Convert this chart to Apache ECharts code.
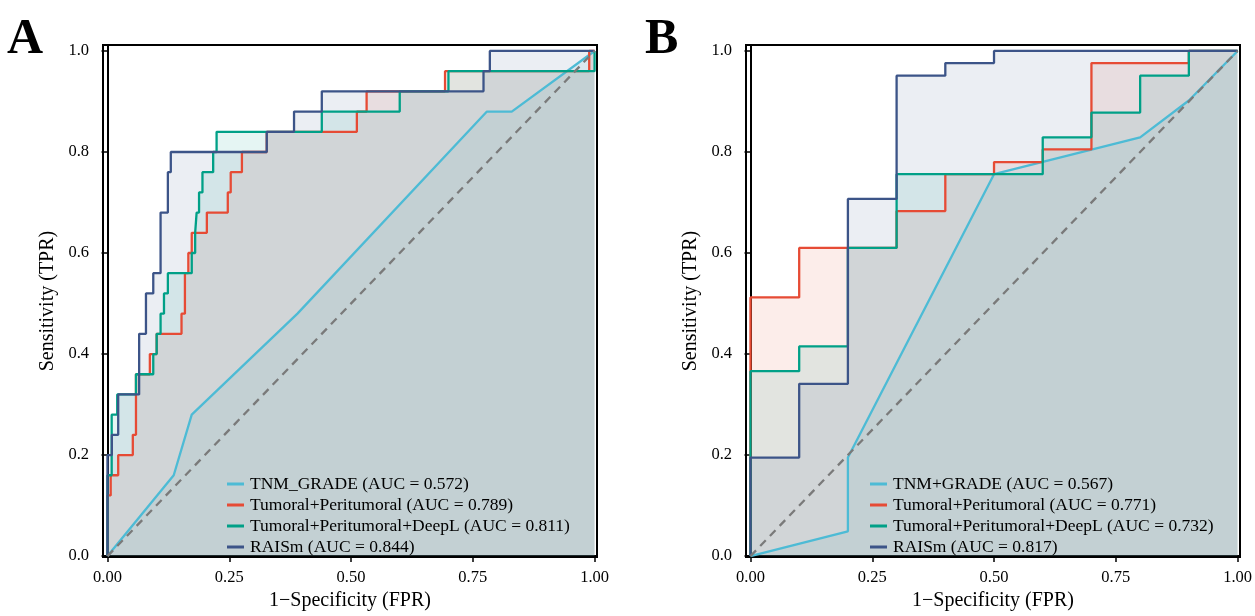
<!DOCTYPE html>
<html>
<head>
<meta charset="utf-8">
<title>ROC curves</title>
<script src="https://cdn.jsdelivr.net/npm/echarts@6/dist/echarts.min.js"></script>
<style>
  html, body { margin: 0; padding: 0; background: #fff; }
  #chart { width: 1255px; height: 616px; }
</style>
</head>
<body>
<div id="chart"></div>
<script>
// tick labels
const xTicks = [0, 0.25, 0.5, 0.75, 1]
const yTicks = [0, 0.2, 0.4, 0.6, 0.8, 1]

// panel A
const namesA = [
  'TNM_GRADE (AUC = 0.572)',
  'Tumoral+Peritumoral (AUC = 0.789)',
  'Tumoral+Peritumoral+DeepL (AUC = 0.811)',
  'RAISm (AUC = 0.844)',
]
const aTnmFpr = [0, 0.136, 0.173, 0.39, 0.779, 0.83, 1]
const aTnmTpr = [0, 0.16, 0.28, 0.48, 0.88, 0.88, 1]
const aTpFpr = [0, 0, 0.0066, 0.0066, 0.022, 0.022, 0.052, 0.052, 0.0585, 0.0585, 0.087, 0.087, 0.101, 0.101, 0.152, 0.152, 0.159, 0.159, 0.166, 0.166, 0.173, 0.173, 0.204, 0.204, 0.247, 0.247, 0.253, 0.253, 0.276, 0.276, 0.327, 0.327, 0.512, 0.512, 0.532, 0.532, 0.693, 0.693, 0.989, 0.989, 1]
const aTpTpr = [0, 0.12, 0.12, 0.16, 0.16, 0.2, 0.2, 0.24, 0.24, 0.36, 0.36, 0.4, 0.4, 0.44, 0.44, 0.48, 0.48, 0.56, 0.56, 0.6, 0.6, 0.64, 0.64, 0.68, 0.68, 0.72, 0.72, 0.76, 0.76, 0.8, 0.8, 0.84, 0.84, 0.88, 0.88, 0.92, 0.92, 0.96, 0.96, 1, 1]
const aTpdFpr = [0, 0, 0.0086, 0.0086, 0.02, 0.02, 0.0585, 0.0585, 0.094, 0.094, 0.101, 0.101, 0.109, 0.109, 0.116, 0.116, 0.124, 0.124, 0.173, 0.173, 0.18, 0.18, 0.183, 0.183, 0.188, 0.188, 0.195, 0.195, 0.217, 0.217, 0.224, 0.224, 0.44, 0.44, 0.6, 0.6, 0.7, 0.7, 1, 1]
const aTpdTpr = [0, 0.16, 0.16, 0.28, 0.28, 0.32, 0.32, 0.36, 0.36, 0.4, 0.4, 0.44, 0.44, 0.48, 0.48, 0.52, 0.52, 0.56, 0.56, 0.6, 0.6, 0.64, 0.64, 0.68, 0.68, 0.72, 0.72, 0.76, 0.76, 0.8, 0.8, 0.84, 0.84, 0.88, 0.88, 0.92, 0.92, 0.96, 0.96, 1]
const aRaisFpr = [0, 0, 0.009, 0.009, 0.022, 0.022, 0.065, 0.065, 0.079, 0.079, 0.094, 0.094, 0.109, 0.109, 0.124, 0.124, 0.13, 0.13, 0.327, 0.327, 0.383, 0.383, 0.44, 0.44, 0.772, 0.772, 0.785, 0.785, 1]
const aRaisTpr = [0, 0.2, 0.2, 0.24, 0.24, 0.32, 0.32, 0.44, 0.44, 0.52, 0.52, 0.56, 0.56, 0.68, 0.68, 0.76, 0.76, 0.8, 0.8, 0.84, 0.84, 0.88, 0.88, 0.92, 0.92, 0.96, 0.96, 1, 1]

// panel B
const namesB = [
  'TNM+GRADE (AUC = 0.567)',
  'Tumoral+Peritumoral (AUC = 0.771)',
  'Tumoral+Peritumoral+DeepL (AUC = 0.732)',
  'RAISm (AUC = 0.817)',
]
const bTnmFpr = [0, 0.2, 0.2, 0.5, 0.8, 0.9, 1]
const bTnmTpr = [0, 0.049, 0.195, 0.756, 0.829, 0.902, 1]
const bTpFpr = [0, 0, 0.1, 0.1, 0.3, 0.3, 0.4, 0.4, 0.5, 0.5, 0.6, 0.6, 0.7, 0.7, 0.9, 0.9, 1]
const bTpTpr = [0, 0.512, 0.512, 0.61, 0.61, 0.683, 0.683, 0.756, 0.756, 0.78, 0.78, 0.805, 0.805, 0.976, 0.976, 1, 1]
const bTpdFpr = [0, 0, 0.1, 0.1, 0.2, 0.2, 0.3, 0.3, 0.6, 0.6, 0.7, 0.7, 0.8, 0.8, 0.9, 0.9, 1]
const bTpdTpr = [0, 0.366, 0.366, 0.415, 0.415, 0.61, 0.61, 0.756, 0.756, 0.829, 0.829, 0.878, 0.878, 0.951, 0.951, 1, 1]
const bRaisFpr = [0, 0, 0.1, 0.1, 0.2, 0.2, 0.3, 0.3, 0.4, 0.4, 0.5, 0.5, 1]
const bRaisTpr = [0, 0.195, 0.195, 0.341, 0.341, 0.707, 0.707, 0.951, 0.951, 0.976, 0.976, 1, 1]

const colors = ['#4DBBD5', '#E64B35', '#00A087', '#3C5488']
const font = 'Liberation Serif'

const zip = (xs, ys) => xs.map((x, i) => [x, ys[i]])

const curve = (name, fpr, tpr, color, idx) => ({
  name,
  type: 'line',
  xAxisIndex: idx,
  yAxisIndex: idx,
  data: zip(fpr, tpr),
  showSymbol: false,
  symbol: 'none',
  lineStyle: { width: 2.3, color },
  itemStyle: { color },
  areaStyle: { color, opacity: 0.1 },
})

const diagonal = (idx) => ({
  type: 'line',
  xAxisIndex: idx,
  yAxisIndex: idx,
  data: [[0, 0], [1, 1]],
  showSymbol: false,
  symbol: 'none',
  silent: true,
  lineStyle: { width: 2.3, color: '#7a7a7a', type: [8, 6] },
  z: 3,
})

const xAxis = (idx) => ({
  type: 'value',
  gridIndex: idx,
  min: -0.0092,
  max: 1.005,
  name: '1\u2212Specificity (FPR)',
  nameLocation: 'middle',
  nameGap: 33,
  nameTextStyle: { fontFamily: font, fontSize: 20, color: '#000' },
  splitLine: { show: false },
  axisLine: { lineStyle: { color: '#000', width: 2 } },
  axisTick: { customValues: xTicks, length: 6, lineStyle: { color: '#000', width: 1.5 } },
  axisLabel: {
    customValues: xTicks,
    margin: 12,
    fontFamily: font,
    fontSize: 16.5,
    color: '#000',
    formatter: (v) => v.toFixed(2),
  },
})

const yAxis = (idx) => ({
  type: 'value',
  gridIndex: idx,
  min: -0.002,
  max: 1.0118,
  name: 'Sensitivity (TPR)',
  nameLocation: 'middle',
  nameGap: 45,
  nameTextStyle: { fontFamily: font, fontSize: 20, color: '#000' },
  splitLine: { show: false },
  axisLine: { show: true, lineStyle: { color: '#000', width: 2 } },
  axisTick: { show: true, customValues: yTicks, length: 6, lineStyle: { color: '#000', width: 1.5 } },
  axisLabel: {
    customValues: yTicks,
    margin: 14,
    fontFamily: font,
    fontSize: 16.5,
    color: '#000',
    formatter: (v) => v.toFixed(1),
  },
})

const legend = (names, left) => ({
  data: names,
  orient: 'vertical',
  left,
  top: 470,
  icon: 'rect',
  itemWidth: 17,
  itemHeight: 3,
  itemGap: 3,
  selectedMode: false,
  textStyle: { fontFamily: font, fontSize: 17.5, lineHeight: 18, color: '#000', padding: [0, 0, 0, 1] },
})

const chart = echarts.init(document.getElementById('chart'), null, { renderer: 'canvas' })

chart.setOption({
  animation: false,
  backgroundColor: '#fff',
  title: [
    { text: 'A', left: 2, top: 10, textStyle: { fontFamily: font, fontSize: 50, fontWeight: 'bold', color: '#000' } },
    { text: 'B', left: 640, top: 10, textStyle: { fontFamily: font, fontSize: 50, fontWeight: 'bold', color: '#000' } },
  ],
  grid: [
    { left: 103, top: 45, width: 494, height: 514, show: true, borderColor: '#000', borderWidth: 2, backgroundColor: 'transparent' },
    { left: 746, top: 45, width: 494, height: 514, show: true, borderColor: '#000', borderWidth: 2, backgroundColor: 'transparent' },
  ],
  xAxis: [xAxis(0), xAxis(1)],
  yAxis: [yAxis(0), yAxis(1)],
  legend: [legend(namesA, 222), legend(namesB, 865)],
  series: [
    curve(namesA[0], aTnmFpr, aTnmTpr, colors[0], 0),
    curve(namesA[1], aTpFpr, aTpTpr, colors[1], 0),
    curve(namesA[2], aTpdFpr, aTpdTpr, colors[2], 0),
    curve(namesA[3], aRaisFpr, aRaisTpr, colors[3], 0),
    diagonal(0),
    curve(namesB[0], bTnmFpr, bTnmTpr, colors[0], 1),
    curve(namesB[1], bTpFpr, bTpTpr, colors[1], 1),
    curve(namesB[2], bTpdFpr, bTpdTpr, colors[2], 1),
    curve(namesB[3], bRaisFpr, bRaisTpr, colors[3], 1),
    diagonal(1),
  ],
})
</script>
</body>
</html>
